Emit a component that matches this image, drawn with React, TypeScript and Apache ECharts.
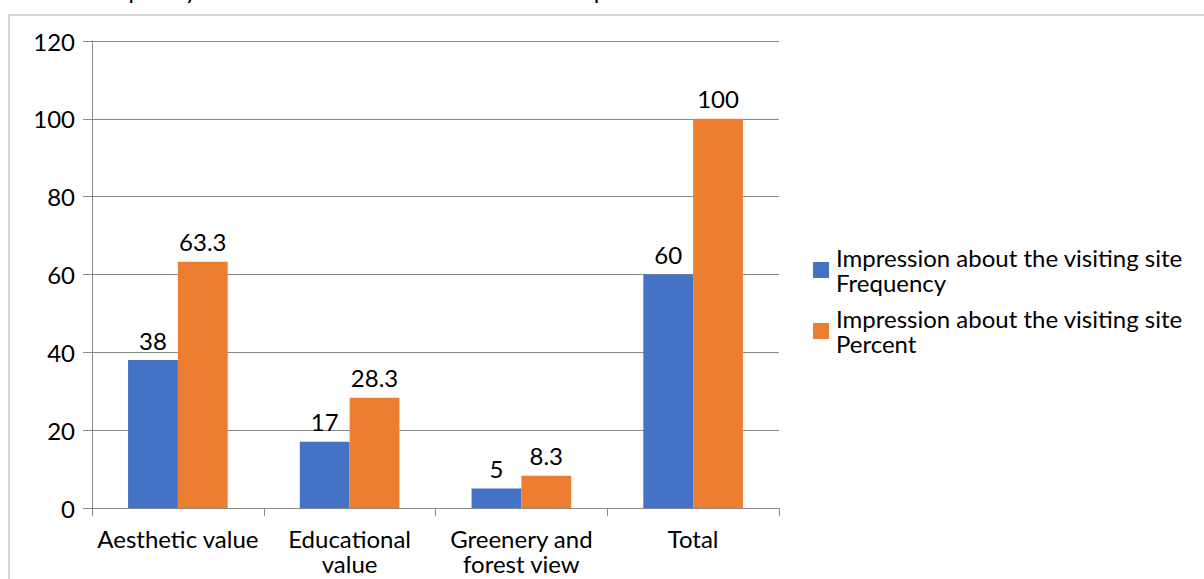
import React, { useEffect, useRef } from "react";
import * as echarts from "echarts";

const categories = ["Aesthetic value", "Educational\nvalue", "Greenery and\nforest view", "Total"];
const frequency = [38, 17, 5, 60];
const percent = [63.3, 28.3, 8.3, 100];
const seriesNames = [
  "Impression about the visiting site\nFrequency",
  "Impression about the visiting site\nPercent",
];
const titleText = "Frequency and Percent Distribution of Visitor Impression";

export default function App() {
  const ref = useRef<HTMLDivElement>(null);
  useEffect(() => {
    document.body.style.margin = "0";
    const chart = echarts.init(ref.current!, null, { renderer: "svg" });
    const font = "Lato, 'Open Sans', sans-serif";
    const axisColor = "#898989";
    const fs = 24;
    chart.setOption({
      animation: false,
      textStyle: { fontFamily: font },
      graphic: [
        {
          type: "rect",
          z: 100,
          shape: { x: 9, y: 15, width: 1300, height: 700 },
          style: { fill: "none", stroke: "#d4d4d4", lineWidth: 2 },
          silent: true,
        },
        {
          type: "text",
          x: 87,
          y: -11,
          style: {
            text: titleText,
            fontFamily: font,
            fontSize: fs,
            fill: "#000",
            textVerticalAlign: "middle",
          },
        },
      ],
      legend: {
        orient: "vertical",
        left: 808,
        top: 240,
        itemWidth: 16,
        itemHeight: 16,
        itemGap: 11,
        icon: "rect",
        textStyle: {
          fontFamily: font,
          fontSize: fs,
          color: "#000",
          lineHeight: 25,
          padding: [0, 0, 0, 2],
        },
        data: seriesNames,
      },
      grid: { left: 92, right: 425, top: 41, bottom: 71, containLabel: false },
      xAxis: {
        type: "category",
        data: categories,
        axisLine: { show: true, lineStyle: { color: axisColor, width: 1 } },
        axisTick: { show: true, length: 8, lineStyle: { color: axisColor } },
        axisLabel: {
          color: "#000",
          fontFamily: font,
          fontSize: fs,
          lineHeight: 25,
          margin: 18,
          interval: 0,
        },
      },
      yAxis: {
        type: "value",
        min: 0,
        max: 120,
        interval: 20,
        axisLine: { show: true, lineStyle: { color: axisColor, width: 1 } },
        axisTick: { show: true, length: 9, lineStyle: { color: axisColor } },
        splitLine: { show: true, lineStyle: { color: axisColor, width: 1 } },
        axisLabel: { color: "#000", fontFamily: font, fontSize: fs, margin: 17 },
      },
      series: [
        {
          name: seriesNames[0],
          type: "bar",
          data: frequency,
          itemStyle: { color: "#4472C4" },
          barGap: "0%",
          barCategoryGap: "42%",
          label: { show: true, position: "top", distance: 8, color: "#000", fontFamily: font, fontSize: fs },
        },
        {
          name: seriesNames[1],
          type: "bar",
          data: percent,
          itemStyle: { color: "#ED7D31" },
          barGap: "0%",
          barCategoryGap: "42%",
          label: { show: true, position: "top", distance: 8, color: "#000", fontFamily: font, fontSize: fs },
        },
      ],
    });
    return () => chart.dispose();
  }, []);
  return <div ref={ref} style={{ width: 1204, height: 579 }} />;
}
